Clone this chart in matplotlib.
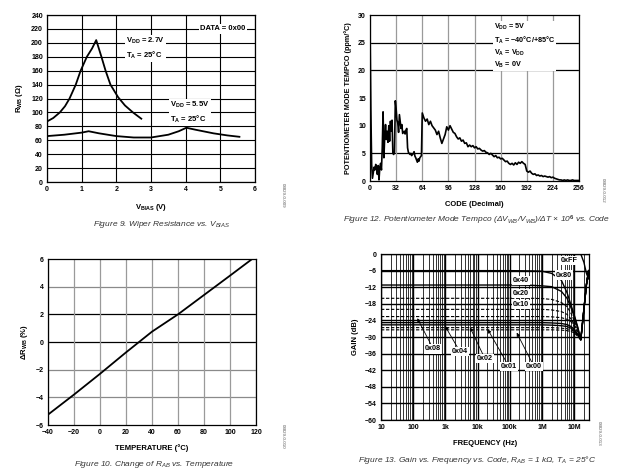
import matplotlib
matplotlib.use("Agg")
import matplotlib.pyplot as plt

plt.rcParams["font.family"] = "Liberation Sans"
plt.rcParams["mathtext.fontset"] = "custom"
plt.rcParams["mathtext.rm"] = "Liberation Sans:bold"
plt.rcParams["mathtext.bf"] = "Liberation Sans:bold"
plt.rcParams["mathtext.it"] = "Liberation Sans:italic"

# Figure 9: wiper resistance vs bias voltage
VBIAS_27 = [0, 0.18, 0.37, 0.52, 0.65, 0.83, 0.97, 1.15, 1.3, 1.42, 1.57, 1.69, 1.83, 2.05, 2.25, 2.48, 2.72]
RWB_27 = [87, 92, 100, 109, 120, 140, 160, 180, 192, 204, 180, 160, 140, 122, 110, 100, 91]
VBIAS_55 = [0, 0.5, 1.0, 1.2, 1.5, 2.0, 2.5, 3.0, 3.5, 3.8, 4.02, 4.3, 4.8, 5.2, 5.55]
RWB_55 = [66, 68, 71, 73, 70, 66, 64, 64, 68, 73, 78, 75, 70, 67, 65]

# Figure 12: tempco vs code
CODE = list(range(0, 65)) + list(range(66, 257, 2))
TEMPCO = [
    27.5, 13.0, 3.0, 0.5, 1.5, 2.5, 2.0, 3.0, 2.5, 1.2, 2.8, 0.2, 2.5, 3.2, 2.0, 6.0,
    12.5, 4.2, 8.0, 10.2, 7.5, 9.0, 7.0, 10.0, 7.2, 10.8, 9.0, 11.0, 5.0, 4.8, 5.2, 14.5,
    13.0, 11.0, 10.5, 8.8, 12.0, 10.8, 9.5, 10.2, 8.6, 8.8, 9.0, 8.5, 9.2, 9.5, 6.0, 5.2,
    5.0, 4.8, 5.0, 4.6, 4.8, 5.0, 5.3, 4.5, 4.2, 3.8, 3.4, 4.0, 3.6, 4.2, 4.4, 4.6,
    12.3,
    11.4, 10.8, 11.2, 10.2, 10.8, 10.0, 9.6, 9.2, 8.4, 9.0, 7.8, 6.8, 7.6, 8.4, 9.8, 9.2,
    10.0, 9.4, 8.8, 8.6, 8.0, 7.6, 7.8, 7.2, 7.4, 6.8, 6.9, 6.2, 6.5, 6.2, 6.4, 6.0,
    6.2, 5.8, 5.9, 5.6, 5.4, 5.5, 5.2, 5.1, 4.8, 5.0, 4.7, 4.4, 4.6, 4.2, 4.3, 4.0,
    4.1, 3.8, 3.5, 3.6, 3.2, 3.0, 3.2, 2.9, 3.3, 3.0, 3.4, 3.2, 3.5, 3.2, 3.0, 1.8,
    1.6, 1.8, 1.4, 1.2, 1.3, 1.0, 1.1, 0.9, 1.0, 0.8, 0.9, 0.8, 0.7, 0.8, 0.6, 0.7,
    0.5, 0.4, 0.3, 0.2, 0.2, 0.1, 0.2, 0.1, 0.2, 0.1, 0.1, 0.2, 0.1, 0.1, 0.1, 0.1,
]

# Figure 10: change of resistance vs temperature
TEMP = [-40, -20, 0, 20, 40, 60, 80, 100, 117]
DRWB = [-5.25, -3.8, -2.3, -0.75, 0.75, 2.0, 3.4, 4.8, 6.0]

# Figure 13: gain vs frequency per code
FREQ = [10, 1e3, 1e5, 5e5, 1e6, 2e6, 4e6, 6e6, 8e6, 1e7, 1.3e7, 1.6e7, 2e7, 2.4e7, 2.8e7]
GAIN = {
    "0xFF": [0, 0, 0, 0, 0, 0, 0.2, 0.3, 0.3, 0.3, 0.2, 0, -3, -7, -9],
    "0x80": [-6.0, -6.0, -6.0, -6.1, -6.2, -7.0, -9.5, -14, -18.5, -22, -26.5, -31, -20, -11, -6],
    "0x40": [-11.2, -11.2, -11.2, -11.3, -11.5, -11.8, -13.5, -16, -19.5, -22.5, -27, -31, -20, -11, -6],
    "0x20": [-16.0, -16.0, -16.0, -16.0, -16.1, -16.4, -17.5, -19, -21.5, -24, -27.5, -31, -20, -11, -6],
    "0x10": [-20.0, -20.0, -20.0, -20.0, -20.0, -20.2, -20.8, -21.8, -23.5, -25.5, -28, -31, -20, -11, -6],
    "0x08": [-22.6, -22.6, -22.6, -22.6, -22.6, -22.7, -23.0, -23.6, -24.5, -26, -28.5, -31, -20, -11, -6],
    "0x04": [-24.8, -24.8, -24.8, -24.8, -24.8, -24.9, -25.1, -25.5, -26.2, -27.2, -29, -31, -20, -11, -6],
    "0x02": [-25.6, -25.6, -25.6, -25.6, -25.6, -25.7, -25.9, -26.2, -26.8, -27.6, -29.3, -31, -20, -11, -6],
    "0x01": [-26.6, -26.6, -26.6, -26.6, -26.6, -26.6, -26.8, -27.0, -27.4, -28.0, -29.6, -31, -20, -11, -6],
    "0x00": [-27.4, -27.4, -27.4, -27.4, -27.4, -27.4, -27.5, -27.7, -28.0, -28.5, -29.8, -31, -20, -11, -6],
}
GAIN_STYLE = {"0xFF": "-", "0x80": "-", "0x40": "-", "0x20": "--", "0x10": "--",
              "0x08": "--", "0x04": "-", "0x02": "-", "0x01": "--", "0x00": "--"}
FREQ_TICKS = [10, 100, 1e3, 1e4, 1e5, 1e6, 1e7]
FREQ_LABELS = ["10", "100", "1k", "10k", "100k", "1M", "10M"]

TICK_FS = 5
LABEL_FS = 5.5
CAP_FS = 6
WHITE = dict(facecolor="white", edgecolor="none", pad=0.8)


def style_axes(ax):
    ax.tick_params(length=0, pad=3, labelsize=TICK_FS)
    for lbl in ax.get_xticklabels() + ax.get_yticklabels():
        lbl.set_fontweight("bold")
    for s in ax.spines.values():
        s.set_linewidth(0.9)
        s.set_color("black")
    ax.set_axisbelow(True)


fig = plt.figure(figsize=(6.2, 4.76), dpi=100)

# ---- Figure 9 ----
ax9 = fig.add_axes([0.0758, 0.6176, 0.3355, 0.3508])
ax9.plot(VBIAS_27, RWB_27, color="black", lw=1.3)
ax9.plot(VBIAS_55, RWB_55, color="black", lw=1.3)
ax9.set_xlim(0, 6)
ax9.set_ylim(0, 240)
ax9.set_xticks(range(0, 7))
ax9.set_yticks(range(0, 241, 20))
ax9.grid(True, color="black", lw=0.8)
style_axes(ax9)
ax9.set_xlabel(r"V$_{\mathrm{BIAS}}$ (V)", fontsize=LABEL_FS, fontweight="bold", labelpad=6)
ax9.set_ylabel(r"R$_{\mathrm{WB}}$ (Ω)", fontsize=LABEL_FS, fontweight="bold", labelpad=4)
ax9.text(5.08, 220, "DATA = 0x00", fontsize=LABEL_FS, fontweight="bold", ha="center", va="center", bbox=WHITE)
ax9.text(2.28, 192, "V$_{\\mathrm{DD}}$ = 2.7V\nT$_{\\mathrm{A}}$ = 25°C", fontsize=LABEL_FS,
         fontweight="bold", ha="left", va="center", linespacing=1.4, bbox=WHITE)
ax9.text(3.55, 100, "V$_{\\mathrm{DD}}$ = 5.5V\nT$_{\\mathrm{A}}$ = 25°C", fontsize=LABEL_FS,
         fontweight="bold", ha="left", va="center", linespacing=1.4, bbox=WHITE)

# ---- Figure 12 ----
ax12 = fig.add_axes([0.5968, 0.6197, 0.3371, 0.3487])
ax12.plot(CODE, TEMPCO, color="black", lw=1.2)
ax12.set_xlim(0, 256)
ax12.set_ylim(0, 30)
ax12.set_xticks(range(0, 257, 32))
ax12.set_yticks(range(0, 31, 5))
ax12.xaxis.grid(True, color="#9a9a9a", lw=0.9)
for yv in [5, 20, 25]:
    ax12.axhline(yv, color="black", lw=0.9, zorder=0.5)
style_axes(ax12)
ax12.set_xlabel("CODE (Decimal)", fontsize=LABEL_FS, fontweight="bold", labelpad=6)
ax12.set_ylabel("POTENTIOMETER MODE TEMPCO (ppm/°C)", fontsize=LABEL_FS - 0.3, fontweight="bold", labelpad=4)
ax12.text(152, 24.4, "V$_{\\mathrm{DD}}$ = 5V\nT$_{\\mathrm{A}}$ = \u221240°C/+85°C\nV$_{\\mathrm{A}}$ = V$_{\\mathrm{DD}}$\nV$_{\\mathrm{B}}$ = 0V",
          fontsize=LABEL_FS - 0.3, fontweight="bold", ha="left", va="center", linespacing=1.3, bbox=WHITE)

# ---- Figure 10 ----
ax10 = fig.add_axes([0.0774, 0.1071, 0.3355, 0.3487])
ax10.plot(TEMP, DRWB, color="black", lw=1.3)
ax10.set_xlim(-40, 120)
ax10.set_ylim(-6, 6)
ax10.set_xticks(range(-40, 121, 20))
ax10.set_yticks(range(-6, 7, 2))
ax10.xaxis.grid(True, color="#9a9a9a", lw=0.9)
for yv in [-4, -2, 4]:
    ax10.axhline(yv, color="#8a8a8a", lw=0.9, zorder=0.5)
for yv in [0, 2]:
    ax10.axhline(yv, color="black", lw=0.9, zorder=0.5)
style_axes(ax10)
ax10.set_xticklabels([str(t).replace("-", "\u2212") for t in range(-40, 121, 20)])
ax10.set_yticklabels([str(t).replace("-", "\u2212") for t in range(-6, 7, 2)])
for lbl in ax10.get_xticklabels() + ax10.get_yticklabels():
    lbl.set_fontweight("bold")
ax10.set_xlabel("TEMPERATURE (°C)", fontsize=LABEL_FS, fontweight="bold", labelpad=6)
ax10.set_ylabel(r"ΔR$_{\mathrm{WB}}$ (%)", fontsize=LABEL_FS, fontweight="bold", labelpad=4)

# ---- Figure 13 ----
ax13 = fig.add_axes([0.6145, 0.1176, 0.3355, 0.3487])
for code, vals in GAIN.items():
    ax13.plot(FREQ, vals, color="black", lw=1.0 if GAIN_STYLE[code] == "-" else 0.8,
              ls=GAIN_STYLE[code], dashes=(3, 1.5) if GAIN_STYLE[code] == "--" else (None, None))
ax13.set_xscale("log")
ax13.set_xlim(10, 2.88e7)
ax13.set_ylim(-60, 0)
ax13.set_yticks(range(-60, 1, 6))
ax13.set_xticks(FREQ_TICKS)
ax13.set_xticklabels(FREQ_LABELS)
ax13.grid(True, which="major", color="black", lw=1.0)
ax13.grid(True, which="minor", axis="x", color="#333333", lw=0.7)
ax13.tick_params(which="minor", length=0)
style_axes(ax13)
ax13.set_yticklabels([str(t).replace("-", "\u2212") for t in range(-60, 1, 6)])
for lbl in ax13.get_yticklabels():
    lbl.set_fontweight("bold")
ax13.set_xlabel("FREQUENCY (Hz)", fontsize=LABEL_FS, fontweight="bold", labelpad=6)
ax13.set_ylabel("GAIN (dB)", fontsize=LABEL_FS, fontweight="bold", labelpad=4)

ann_fs = LABEL_FS - 0.3
ax13.text(7.0e6, -2.4, "0xFF", fontsize=ann_fs, fontweight="bold", ha="center", va="center", bbox=WHITE)
ax13.text(4.8e6, -7.6, "0x80", fontsize=ann_fs, fontweight="bold", ha="center", va="center", bbox=WHITE)
ax13.text(2.2e5, -9.6, "0x40", fontsize=ann_fs, fontweight="bold", ha="center", va="center", bbox=WHITE)
ax13.text(2.2e5, -14.2, "0x20", fontsize=ann_fs, fontweight="bold", ha="center", va="center", bbox=WHITE)
ax13.text(2.2e5, -18.2, "0x10", fontsize=ann_fs, fontweight="bold", ha="center", va="center", bbox=WHITE)

arrow = dict(arrowstyle="-|>", color="black", lw=0.6, mutation_scale=5, shrinkA=0, shrinkB=0)
callouts = [
    ("0x08", (134, -23.2), (420, -34.3)),
    ("0x04", (972, -26.0), (2840, -35.3)),
    ("0x02", (5800, -26.5), (17000, -37.9)),
    ("0x01", (20600, -27.2), (94400, -40.7)),
    ("0x00", (164000, -28.4), (565000, -40.7)),
]
for name, tip, lab in callouts:
    ax13.annotate(name, xy=tip, xytext=lab, fontsize=ann_fs, fontweight="bold",
                  ha="center", va="center", bbox=WHITE, arrowprops=arrow)

# ---- captions and side ids ----
cap_kw = dict(fontsize=CAP_FS, style="italic", color="#333333", ha="center", va="center")
fig.text(0.261, 0.529, r"Figure 9. Wiper Resistance vs. V$_{\mathit{BIAS}}$", **cap_kw)
fig.text(0.769, 0.538, r"Figure 12. Potentiometer Mode Tempco (ΔV$_{\mathit{WB}}$/V$_{\mathit{WB}}$)/ΔT × 10$^{\mathit{6}}$ vs. Code", **cap_kw)
fig.text(0.248, 0.025, r"Figure 10. Change of R$_{\mathit{AB}}$ vs. Temperature", **cap_kw)
fig.text(0.769, 0.034, r"Figure 13. Gain vs. Frequency vs. Code, R$_{\mathit{AB}}$ = 1 kΩ, T$_{\mathit{A}}$ = 25°C", **cap_kw)

id_kw = dict(fontsize=3.2, color="#555555", rotation=270, ha="center", va="center")
fig.text(283 / 620, 1 - 195 / 476, "03829-0-009", **id_kw)
fig.text(603 / 620, 1 - 190 / 476, "03829-0-012", **id_kw)
fig.text(283 / 620, 1 - 436 / 476, "03829-0-010", **id_kw)
fig.text(599 / 620, 1 - 433 / 476, "03829-0-013", **id_kw)

fig.savefig("out.png", dpi=100)
